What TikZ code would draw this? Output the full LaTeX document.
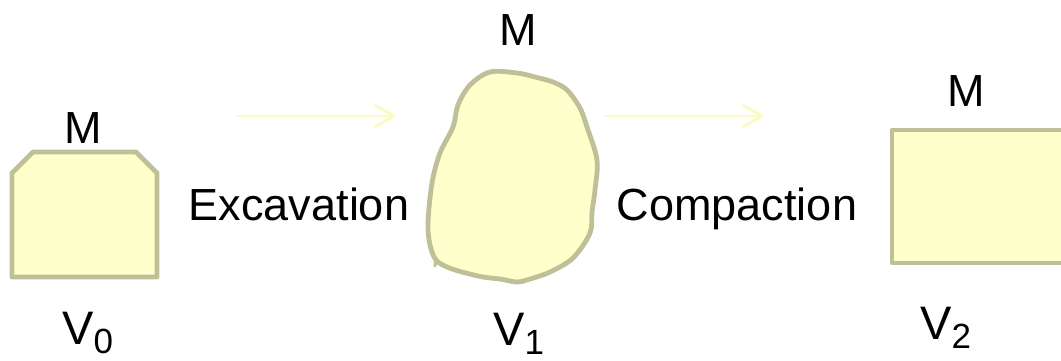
\documentclass[tikz,border=0pt]{standalone}
\usepackage{fontspec}
\setmainfont{Liberation Sans}
\usetikzlibrary{arrows.meta}
\definecolor{soilfill}{HTML}{FFFFCC}
\definecolor{soilline}{HTML}{BFBF98}
\definecolor{arrowcol}{HTML}{FBFBC0}
\tikzset{
  soil/.style={fill=soilfill, draw=soilline, line width=4.8pt, line join=round},
  lbl/.style={anchor=base, inner sep=0pt, font=\fontsize{45}{50}\selectfont},
  vlbl/.style={anchor=base west, inner sep=0pt, font=\fontsize{47}{52}\selectfont},
  flow/.style={draw=arrowcol, line width=2.7pt, -{Straight Barb[length=20pt,width=22pt,line width=2.7pt]}}
}
\newcommand{\vsub}[1]{\raisebox{-9pt}{\fontsize{35}{40}\selectfont #1}}
\begin{document}
\begin{tikzpicture}[x=1pt,y=-1pt]
\useasboundingbox (0,0) rectangle (1061,360);
\clip (0,0) rectangle (1061,360);
% left shape (V0)
\draw[soil] (12,173) -- (33,152) -- (136,152) -- (157,173) -- (157,277) -- (12,277) -- cycle;
% blob (V1)
\draw[soil] plot[smooth cycle, tension=0.55] coordinates {
  (490,72) (517,73) (535,77) (553,82) (567,90) (580,108) (587,127) (597,160)
  (595,190) (592,212) (590,233) (573,258) (550,272) (530,279) (517,282) (500,279)
  (483,277) (462,272) (447,267) (436,260) (430,245) (428,223) (432,183) (440,153)
  (453,127) (458,105) (470,85)};
\draw[soilline, line width=3pt, line cap=round] (436,260) -- (435,266);
% right rectangle (V2)
\draw[soil] (892,130) rectangle (1100,263);
% arrows
\coordinate (a1s) at (237,116);
\coordinate (a1e) at (397,116);
\coordinate (a2s) at (605,116);
\coordinate (a2e) at (765,116);
\draw[flow] (a1s) -- (a1e);
\draw[flow] (a2s) -- (a2e);
% labels
\node[lbl] (m0) at (83,143) {M};
\node[lbl] (m1) at (518,45) {M};
\node[lbl] (m2) at (966,106) {M};
\node[lbl] (exc) at (299,220) {Excavation};
\node[lbl] (comp) at (737,220) {Compaction};
\node[vlbl] (v0) at (62,344) {V\vsub{0}};
\node[vlbl] (v1) at (493,345) {V\vsub{1}};
\node[vlbl] (v2) at (920,339) {V\vsub{2}};
\end{tikzpicture}
\end{document}
